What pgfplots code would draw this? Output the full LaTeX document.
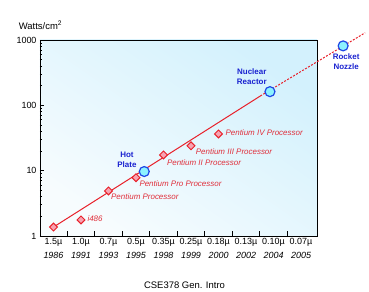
\documentclass[border=0pt]{standalone}
\usepackage{pgfplots}
\pgfplotsset{compat=1.18}
\usepackage{fontspec}
\setmainfont{Liberation Sans}
\definecolor{lred}{HTML}{E8202A}
\definecolor{tred}{HTML}{E0303C}
\definecolor{dpink}{HTML}{F7A3B2}
\definecolor{tblue}{HTML}{1A22D0}
\definecolor{cblue}{HTML}{1E46E6}
\definecolor{ccyan}{HTML}{8CF2FF}
\definecolor{bgtop}{HTML}{D3F1FD}
\definecolor{bgbot}{HTML}{F7FCFE}
\begin{document}
\begin{tikzpicture}
\path (0bp,0bp) rectangle (369bp,291bp);
\begin{axis}[
  at={(40bp,55bp)}, anchor=south west,
  scale only axis, width=277bp, height=196bp,
  ymode=log, xmin=-0.49, xmax=9.58, ymin=1, ymax=1000,
  clip=false,
  axis line style={line width=1pt},
  axis background/.style={shade, top color=bgtop, bottom color=bgbot, shading angle=-35},
  tick align=inside,
  xtick={0,...,9},
  xticklabels={{1.5µ\\\textit{1986}},{1.0µ\\\textit{1991}},{0.7µ\\\textit{1993}},{0.5µ\\\textit{1995}},{0.35µ\\\textit{1998}},{0.25µ\\\textit{1999}},{0.18µ\\\textit{2000}},{0.13µ\\\textit{2002}},{0.10µ\\\textit{2004}},{0.07µ\\\textit{2005}}},
  xticklabel style={align=center, font=\fontsize{9}{14}\selectfont, yshift=1pt},
  major x tick style={draw=none},
  minor xtick={0.5,1.5,...,8.5},
  xtick pos=bottom,
  ytick pos=left,
  ytick={1,10,100,1000},
  yticklabels={1,10,100,1000},
  yticklabel style={font=\fontsize{9}{10}\selectfont},
  major tick length=4bp, minor tick length=2.5bp,
  tick style={black, line width=0.8pt},
  minor x tick style={line width=1pt},
]
\pgfplotsset{minor x tick style={/pgfplots/minor tick length=5bp}}
\addplot[lred, line width=1pt] coordinates {(0,1.37) (7.52,139)};
\addplot[lred, line width=1pt, dash pattern=on 2pt off 1.5pt] coordinates {(7.52,139) (11.33,1290)};
\addplot[only marks, mark=square*, mark size=2.8pt, mark options={rotate=45, draw=lred, fill=dpink, line width=1pt}]
  coordinates {(0,1.37) (1,1.76) (2,4.9) (3,7.8) (4,17.4) (5,24) (6,36.5)};
\addplot[only marks, mark=*, mark size=5pt, mark options={draw=cblue, fill=ccyan, line width=1.2pt}]
  coordinates {(3.3,9.7) (7.87,162) (10.53,813)};
\begin{scope}[font=\fontsize{8}{9}\selectfont\itshape, text=tred, inner sep=0pt]
\node[anchor=west] at (axis cs:6.25,37.7) {Pentium IV Processor};
\node[anchor=west] at (axis cs:5.17,19.5) {Pentium III Processor};
\node[anchor=west] at (axis cs:4.12,13.2) {Pentium II Processor};
\node[anchor=west] at (axis cs:3.12,6.3) {Pentium Pro Processor};
\node[anchor=west] at (axis cs:2.09,4.0) {Pentium Processor};
\node[anchor=west] at (axis cs:1.23,1.82) {i486};
\end{scope}
\begin{scope}[font=\fontsize{8}{10}\selectfont\bfseries, text=tblue, align=center, inner sep=0pt]
\node at (axis cs:2.67,14.6) {Hot\\Plate};
\node at (axis cs:7.21,274) {Nuclear\\Reactor};
\node at (axis cs:10.64,466) {Rocket\\Nozzle};
\end{scope}
\end{axis}
\node[font=\fontsize{9.5}{11}\selectfont] at (40.5bp,266bp) {Watts/cm\textsuperscript{2}};
\node[font=\fontsize{9.5}{11}\selectfont] at (184.5bp,6bp) {CSE378 Gen. Intro};
\end{tikzpicture}
\end{document}
